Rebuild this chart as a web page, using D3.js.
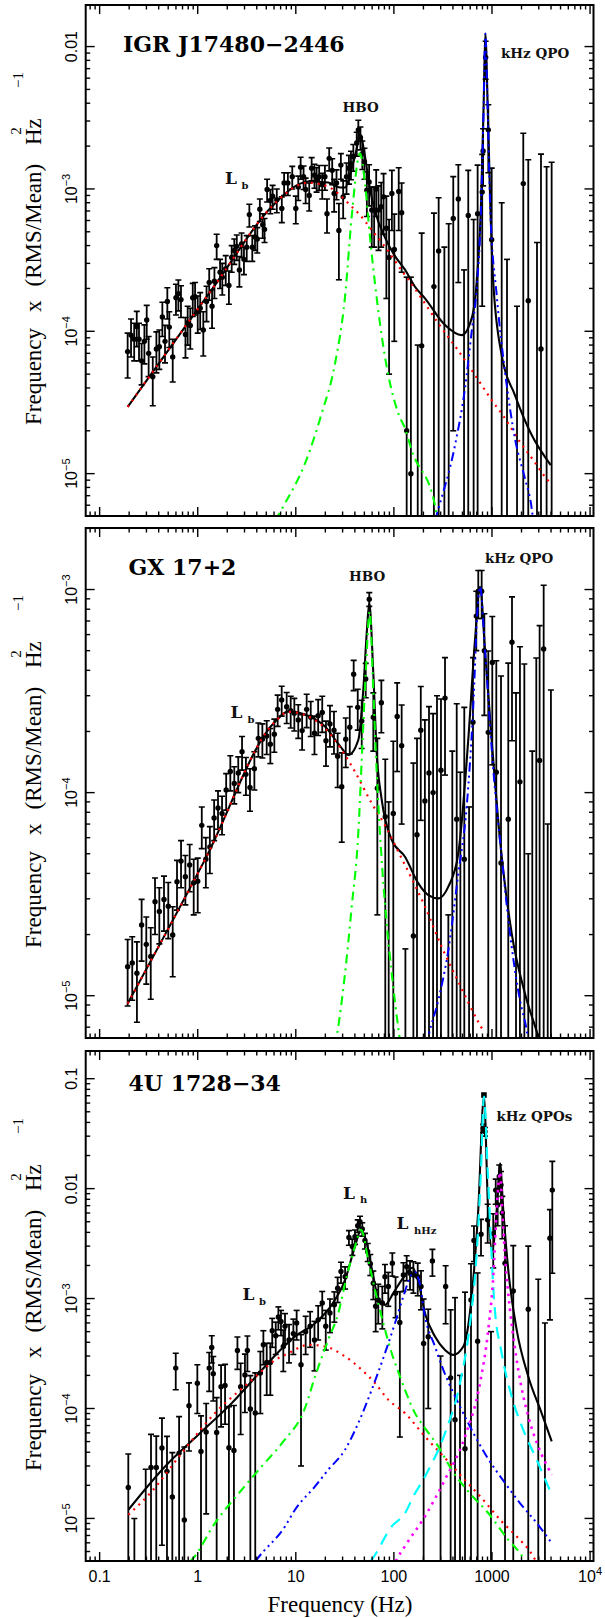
<!DOCTYPE html>
<html>
<head>
<meta charset="utf-8">
<script src="https://cdn.jsdelivr.net/npm/d3@7/dist/d3.min.js"></script>
<style>
body { margin: 0; background: #fff; }
svg { display: block; }
.tick-lbl { font-family: "Liberation Sans", Arial, sans-serif; font-size: 16px; fill: #000; }
.ax-title { font-family: "Liberation Serif", "Times New Roman", serif; font-size: 23px; fill: #000; }
.name { font-family: "DejaVu Serif", serif; font-weight: bold; font-size: 22px; fill: #000; }
.ann { font-family: "DejaVu Serif", serif; font-weight: bold; font-size: 13.5px; fill: #111; }
</style>
</head>
<body>
<div id="chart"></div>
<script>
// ---- shared x axis ----
var xTicks = [0.1, 1, 10, 100, 1000, 10000];
var xTickLabels = ["0.1", "1", "10", "100", "1000", "10^4"];

// ---- IGR J17480-2446 : data points [freq, power, sigma] ----
var igrPoints = [
  [0.193, 7.2e-5, 2.5e-5], [0.209, 9.4e-5, 2.8e-5], [0.225, 8.8e-5, 2.6e-5], [0.239, 1.08e-4, 3.0e-5],
  [0.252, 8.8e-5, 2.6e-5], [0.268, 6.2e-5, 2.0e-5], [0.286, 8.5e-5, 2.6e-5], [0.302, 1.2e-4, 3.2e-5],
  [0.316, 7.0e-5, 2.2e-5], [0.348, 4.8e-5, 1.8e-5], [0.379, 7.5e-5, 2.4e-5], [0.406, 7.8e-5, 2.4e-5],
  [0.436, 1.26e-4, 3.4e-5], [0.464, 8.5e-5, 2.5e-5], [0.49, 1.62e-4, 4.0e-5], [0.513, 1.07e-4, 3.0e-5],
  [0.556, 6.6e-5, 2.2e-5], [0.6, 1.72e-4, 4.2e-5], [0.635, 1.84e-4, 4.5e-5], [0.675, 1.67e-4, 4.2e-5],
  [0.75, 9.5e-5, 3.0e-5], [0.79, 1.15e-4, 3.5e-5], [0.84, 1.1e-4, 3.5e-5], [0.89, 1.72e-4, 4.5e-5],
  [0.94, 1.75e-4, 4.5e-5], [1.0, 1.37e-4, 4.0e-5], [1.06, 1.45e-4, 4.2e-5], [1.14, 1.02e-4, 3.5e-5],
  [1.23, 1.62e-4, 4.5e-5], [1.31, 2.2e-4, 5.5e-5], [1.40, 1.5e-4, 4.5e-5], [1.48, 2.25e-4, 5.5e-5],
  [1.56, 4.0e-4, 8.0e-5], [1.69, 2.6e-4, 6.0e-5], [1.78, 2.4e-4, 6.0e-5], [1.93, 2.75e-4, 6.5e-5],
  [2.08, 2.1e-4, 5.5e-5], [2.22, 3.3e-4, 7.0e-5], [2.36, 3.7e-4, 7.5e-5], [2.5, 3.95e-4, 8.0e-5],
  [2.66, 2.7e-4, 6.5e-5], [2.8, 4.1e-4, 8.0e-5], [2.96, 3.2e-4, 7.0e-5], [3.16, 3.9e-4, 8.0e-5],
  [3.36, 6.6e-4, 1.2e-4], [3.6, 3.9e-4, 8.0e-5], [3.84, 4.6e-4, 9.0e-5], [4.05, 4.45e-4, 9.0e-5],
  [4.3, 7.2e-4, 1.3e-4], [4.6, 5.6e-4, 1.1e-4], [4.8, 5.2e-4, 1.0e-4], [5.1, 9.9e-4, 1.8e-4],
  [5.5, 8.3e-4, 1.6e-4], [5.8, 8.9e-4, 1.7e-4],
  [6.4, 8.4e-4, 1.6e-4], [7.2, 7.3e-4, 1.5e-4], [7.6, 1.1e-3, 2.0e-4], [8.3, 1.1e-3, 2.0e-4],
  [9.2, 1.22e-3, 2.2e-4], [10.0, 7.3e-4, 1.6e-4], [10.6, 1.03e-3, 2.0e-4], [11.2, 1.42e-3, 2.5e-4],
  [12.0, 1.22e-3, 2.3e-4], [12.6, 9.9e-4, 2.0e-4], [13.7, 9.0e-4, 2.0e-4], [14.5, 1.4e-3, 2.6e-4],
  [15.5, 1.25e-3, 2.4e-4], [16.3, 1.18e-3, 2.3e-4], [17.3, 1.22e-3, 2.4e-4], [18.6, 1.07e-3, 2.2e-4],
  [19.8, 1.22e-3, 2.4e-4], [20.8, 6.7e-4, 1.8e-4], [21.9, 1.64e-3, 3.0e-4], [23.5, 1.35e-3, 2.8e-4],
  [24.6, 9.3e-4, 2.4e-4], [26.0, 1.1e-3, 2.6e-4], [27.5, 5.1e-4, 2.8e-4], [28.8, 1.47e-3, 3.0e-4],
  [30.4, 8.8e-4, 2.6e-4], [32.9, 1.22e-3, 3.0e-4], [34.8, 1.4e-3, 3.2e-4], [36.5, 1.5e-3, 3.4e-4],
  [38.6, 1.69e-3, 3.6e-4], [41.8, 2.1e-3, 4.0e-4], [43.4, 2.6e-3, 4.4e-4], [45.6, 2.3e-3, 4.2e-4],
  [47.7, 1.77e-3, 4.0e-4], [50.1, 1.55e-3, 3.8e-4], [53, 9.8e-4, 3.4e-4], [55.9, 1.12e-3, 3.6e-4],
  [59.5, 7.1e-4, 3.2e-4], [62.9, 7.1e-4, 3.2e-4], [66, 1.0e-3, 3.6e-4], [69.7, 7.1e-4, 3.4e-4],
  [74.2, 7.5e-4, 3.6e-4], [78.5, 8.8e-4, 4.0e-4], [83.8, 5.3e-4, 3.6e-4], [89.3, 3.3e-4, 2.8e-4],
  [95.4, 9.3e-4, 4.2e-4], [101, 3.75e-4, 2.9e-4], [112, 9.6e-4, 4.5e-4], [120, 6.8e-4, 4.2e-4],
  [135, 2.0e-5, 2.2e-4], [149, 1.0e-5, 2.3e-4], [175, -1e-4, 1.8e-4], [192, 7.9e-5, 4.1e-4],
  [256, 2.06e-4, 4.7e-4], [286, 3.66e-4, 5.0e-4], [327, -1e-4, 4.9e-4], [362, -5e-5, 6.2e-4],
  [403, 6.2e-4, 6.0e-4], [454, 8.5e-4, 6.3e-4], [519, -2e-4, 4.7e-4], [573, 6.5e-4, 7.0e-4],
  [650, -1e-4, 7.1e-4], [714, 6.7e-4, 8.0e-4], [795, 9.5e-4, 8.0e-4], [812, 1.85e-3, 8.0e-4],
  [862, 8.4e-3, 2.5e-3], [917, 2.6e-3, 1.3e-3], [993, 4.4e-4, 9.6e-4], [1256, -2e-4, 1.0e-3],
  [1423, -5e-4, 8.2e-4], [1800, -6e-4, 7.5e-4], [2085, 1.09e-3, 1.37e-3], [2344, 1.64e-4, 1.44e-3],
  [2877, -8e-4, 1.22e-3], [3160, 7.5e-5, 1.68e-3], [3605, -2e-4, 1.63e-3], [4058, -2e-4, 1.74e-3]
];
// model curves, [log10 freq, log10 power]
var igrTotal = [[-0.714,-4.531],[0.176,-3.675],[0.754,-3.125],[1.009,-2.975],[1.128,-2.948],[1.331,-2.955],
  [1.45,-2.99],[1.502,-2.99],[1.57,-2.857],[1.62,-2.72],[1.654,-2.613],[1.705,-2.77],[1.756,-3.0],[1.807,-3.155],
  [1.909,-3.34],[2.0,-3.46],[2.113,-3.567],[2.215,-3.687],[2.317,-3.769],[2.521,-3.956],[2.691,-4.027],
  [2.793,-3.909],[2.844,-3.652],[2.888,-3.113],[2.915,-2.41],[2.932,-1.906],[2.956,-2.41],[2.983,-3.113],
  [3.013,-3.652],[3.099,-4.167],[3.234,-4.448],[3.405,-4.729],[3.599,-4.94]];
var igrLb = [[-0.714,-4.531],[0.176,-3.675],[0.754,-3.125],[0.9,-3.03],[1.009,-2.978],[1.128,-2.956],
  [1.331,-2.985],[1.57,-3.125],[1.654,-3.183],[1.774,-3.289],[1.909,-3.406],[2.096,-3.589],[2.164,-3.652],
  [2.283,-3.769],[2.453,-3.945],[2.64,-4.12],[2.827,-4.308],[2.997,-4.483],[3.133,-4.612],[3.285,-4.777],
  [3.421,-4.905],[3.54,-5.022],[3.609,-5.08]];
var igrHbo = [[0.79,-5.33],[0.89,-5.209],[1.094,-4.928],[1.264,-4.577],[1.4,-4.226],[1.502,-3.757],[1.57,-3.195],
  [1.654,-2.75],[1.705,-2.96],[1.756,-3.336],[1.807,-3.663],[1.909,-4.179],[2.045,-4.577],[2.113,-4.682],
  [2.181,-4.835],[2.419,-5.222],[2.44,-5.33]];
var igrKhz = [[2.42,-5.33],[2.436,-5.29],[2.623,-4.80],[2.725,-4.40],[2.793,-4.003],[2.844,-3.70],[2.888,-3.15],
  [2.915,-2.43],[2.932,-1.91],[2.956,-2.43],[2.983,-3.15],[3.048,-3.746],[3.133,-4.285],[3.234,-4.753],
  [3.336,-5.034],[3.405,-5.245],[3.42,-5.33]];

// ---- GX 17+2 ----
var gxPoints = [
  [0.193, 1.39e-5, 0.5e-5], [0.215, 1.45e-5, 0.5e-5], [0.24, 1.29e-5, 0.55e-5], [0.268, 2.23e-5, 0.75e-5],
  [0.299, 1.79e-5, 0.65e-5], [0.332, 1.56e-5, 0.6e-5], [0.367, 2.9e-5, 0.9e-5], [0.406, 2.6e-5, 0.8e-5],
  [0.453, 2.98e-5, 0.9e-5], [0.501, 2.76e-5, 0.85e-5], [0.556, 1.99e-5, 0.75e-5], [0.615, 3.64e-5, 1.0e-5],
  [0.676, 4.6e-5, 1.2e-5], [0.748, 3.85e-5, 1.05e-5], [0.828, 4.4e-5, 1.15e-5], [0.91, 3.6e-5, 1.1e-5],
  [1.0, 3.66e-5, 1.1e-5], [1.1, 6.9e-5, 1.6e-5], [1.21, 4.7e-5, 1.3e-5], [1.33, 5.4e-5, 1.4e-5],
  [1.47, 7.5e-5, 1.7e-5], [1.61, 8.4e-5, 1.8e-5], [1.77, 7.9e-5, 1.7e-5], [1.95, 1.03e-4, 2.1e-5],
  [2.15, 1.27e-4, 2.5e-5], [2.36, 1.11e-4, 2.3e-5], [2.59, 1.25e-4, 2.5e-5], [2.83, 1.59e-4, 3.0e-5],
  [3.1, 1.23e-4, 2.6e-5], [3.41, 1.06e-4, 2.5e-5], [3.78, 1.31e-4, 2.8e-5], [4.15, 1.85e-4, 3.5e-5],
  [4.56, 1.83e-4, 3.5e-5], [5.05, 1.9e-4, 3.6e-5], [5.5, 1.73e-4, 3.4e-5], [6.04, 1.94e-4, 3.6e-5],
  [6.53, 2.57e-4, 4.5e-5], [7.18, 2.86e-4, 4.8e-5],
  [8.07, 2.65e-4, 4.6e-5], [8.87, 2.53e-4, 4.5e-5], [9.66, 2.46e-4, 4.5e-5], [10.6, 2.28e-4, 4.3e-5],
  [11.6, 2.02e-4, 4.0e-5], [12.9, 2.57e-4, 4.8e-5], [14.2, 2.35e-4, 4.6e-5], [15.5, 1.96e-4, 4.2e-5],
  [16.9, 2.39e-4, 4.8e-5], [18.6, 2.48e-4, 5.0e-5], [20.3, 1.8e-4, 4.5e-5], [22.3, 2.18e-4, 5.0e-5],
  [24.5, 2.03e-4, 4.8e-5], [26.7, 1.51e-4, 4.5e-5], [29.4, 1.07e-4, 5.0e-5], [32.3, 1.83e-4, 5.0e-5],
  [35.5, 2.1e-4, 5.5e-5], [38.9, 3.83e-4, 6.5e-5], [42.8, 2.63e-4, 6.0e-5], [47.0, 2.25e-4, 6.0e-5],
  [51.6, 3.63e-4, 7.0e-5], [56.1, 8.96e-4, 7.0e-5], [61.7, 2.35e-4, 7.5e-5], [67.8, 1.05e-4, 8.0e-5],
  [74.5, 2.77e-4, 8.0e-5], [81.7, 7.6e-5, 7.0e-5], [88.5, -2e-5, 1.1e-4], [98.6, 7.9e-5, 1.0e-4],
  [108, 2.37e-4, 1.1e-4], [120, 1.7e-4, 1.0e-4], [131, -8e-5, 9.7e-5], [158, 1.97e-5, 1.2e-4],
  [172, 6.2e-5, 1.23e-4], [188, 2.03e-4, 1.3e-4], [207, 9.1e-5, 1.37e-4], [228, 1.25e-4, 1.4e-4],
  [251, 1.0e-4, 1.45e-4], [275, -5e-5, 3.5e-4], [302, 1.29e-4, 1.6e-4], [332, 2.92e-4, 1.7e-4],
  [359, -1.5e-4, 1.75e-4], [394, -2e-5, 1.8e-4], [437, 7.4e-5, 2.0e-4], [476, -8e-5, 2.06e-4],
  [522, 4.7e-5, 2.16e-4], [584, -1.5e-4, 2.35e-4], [640, 2.22e-4, 2.4e-4], [692, 7.4e-4, 2.4e-4],
  [725, 9.8e-4, 2.6e-4], [785, 9.8e-4, 2.6e-4], [836, 5.0e-4, 2.6e-4], [917, 1.98e-4, 3.0e-4],
  [1007, 4.37e-4, 3.0e-4], [1107, 1.26e-4, 3.2e-4], [1236, 4.5e-5, 3.3e-4], [1466, 7.4e-5, 3.6e-4],
  [1600, 5.5e-4, 3.7e-4], [1758, -1e-4, 4.1e-4], [1928, 1.13e-4, 4.1e-4], [2138, -5e-5, 4.8e-4],
  [2344, -4e-4, 4.5e-4], [2576, -3e-4, 4.6e-4], [2830, -2e-5, 4.8e-4], [3060, 1.44e-4, 5.2e-4],
  [3365, 5.1e-4, 5.4e-4], [3700, -4e-4, 4.7e-4], [3990, -2e-4, 5.2e-4]
];
var gxTotal = [[-0.714,-5.038],[0.074,-4.33],[0.788,-3.651],[0.924,-3.60],[1.094,-3.615],[1.298,-3.675],
  [1.45,-3.77],[1.536,-3.815],[1.637,-3.741],[1.688,-3.495],[1.723,-3.215],[1.749,-3.067],[1.79,-3.412],
  [1.825,-3.806],[1.876,-4.036],[1.978,-4.233],[2.113,-4.316],[2.249,-4.447],[2.351,-4.505],[2.453,-4.521],
  [2.555,-4.463],[2.657,-4.299],[2.758,-3.741],[2.827,-3.248],[2.878,-2.986],[2.929,-3.298],[2.997,-3.741],
  [3.082,-4.233],[3.201,-4.693],[3.336,-4.989],[3.472,-5.202],[3.5,-5.25]];
var gxLb = [[-0.714,-5.038],[0.074,-4.33],[0.788,-3.651],[0.924,-3.602],[1.094,-3.618],[1.298,-3.683],
  [1.468,-3.79],[1.603,-3.897],[1.774,-4.053],[1.909,-4.16],[2.045,-4.291],[2.198,-4.439],[2.317,-4.562],
  [2.487,-4.759],[2.674,-4.948],[2.86,-5.129],[2.918,-5.178]];
var gxHbo = [[1.40,-5.25],[1.417,-5.202],[1.502,-4.89],[1.57,-4.562],[1.637,-4.2],[1.678,-3.774],[1.713,-3.412],
  [1.753,-3.109],[1.79,-3.495],[1.825,-3.905],[1.869,-4.283],[1.92,-4.611],[1.978,-4.89],[2.052,-5.186],[2.07,-5.25]];
var gxKhz = [[2.33,-5.25],[2.351,-5.202],[2.453,-5.022],[2.555,-4.776],[2.657,-4.398],[2.742,-4.07],[2.809,-3.577],
  [2.854,-3.084],[2.878,-2.986],[2.929,-3.298],[3.003,-3.823],[3.099,-4.316],[3.201,-4.759],[3.285,-5.022],
  [3.354,-5.17],[3.38,-5.25]];

// ---- 4U 1728-34 ----
var fuPoints = [
  [0.196, 1.91e-5, 1.94e-5], [0.226, -5e-6, 1.5e-5], [0.295, -1e-5, 3.8e-5], [0.334, 2.91e-5, 2.9e-5],
  [0.378, 2.91e-5, 2.7e-5], [0.432, 4.37e-5, 3.8e-5], [0.486, 2.68e-5, 2.9e-5], [0.551, 1.57e-5, 2.4e-5],
  [0.597, 2.33e-4, 8.5e-5], [0.646, 3.93e-5, 4.5e-5], [0.73, 9.7e-6, 3.5e-5], [0.815, 1.06e-4, 6.5e-5],
  [0.991, 1.7e-4, 8.0e-5], [1.08, 4.07e-5, 4.5e-5], [1.22, 6.1e-5, 5.0e-5], [1.31, 2.33e-4, 9.0e-5],
  [1.39, 3.59e-4, 1.0e-4], [1.44, 2.07e-4, 9.0e-5], [1.56, 6.05e-5, 6.5e-5], [1.73, 1.58e-4, 9.0e-5],
  [1.9, 1.62e-4, 9.0e-5], [2.08, 4.4e-5, 6.0e-5], [2.34, 4.15e-5, 6.5e-5], [2.54, 3.37e-4, 1.1e-4],
  [2.74, 1.58e-4, 1.0e-4], [3.03, 2.02e-4, 1.1e-4], [3.21, 3.37e-4, 1.2e-4], [3.44, 9.9e-5, 1.0e-4],
  [3.86, 9.1e-5, 1.2e-4], [4.35, 2.1e-4, 1.2e-4], [4.67, 3.8e-4, 1.3e-4], [5.05, 2.62e-4, 1.3e-4],
  [5.5, 2.62e-4, 1.3e-4], [5.75, 5.1e-4, 1.5e-4], [6.24, 4.6e-4, 1.5e-4], [6.64, 6.8e-4, 1.6e-4],
  [7.06, 6.2e-4, 1.6e-4], [7.46, 3.67e-4, 1.5e-4],
  [7.76, 5.6e-4, 1.7e-4], [8.53, 4.2e-4, 1.6e-4], [9.44, 4.8e-4, 1.7e-4], [10.2, 6.0e-4, 1.8e-4],
  [11.3, 2.5e-4, 2.2e-4], [12.6, 5.0e-4, 1.9e-4], [14.0, 5.6e-4, 2.0e-4], [15.5, 4.2e-4, 2.0e-4],
  [16.9, 6.4e-4, 2.2e-4], [18.6, 9.1e-4, 2.5e-4], [20.2, 5.6e-4, 2.2e-4], [22.3, 7.4e-4, 2.5e-4],
  [24.7, 8.8e-4, 2.7e-4], [26.7, 1.24e-3, 3.2e-4], [28.9, 1.76e-3, 3.8e-4], [31.8, 1.58e-3, 3.6e-4],
  [34.8, 3.6e-3, 5.5e-4], [37.7, 2.97e-3, 5.0e-4], [40.1, 3.66e-3, 5.5e-4], [42.8, 4.6e-3, 6.0e-4],
  [45.1, 5.0e-3, 6.0e-4], [47.6, 4.3e-3, 6.0e-4], [50.7, 3.37e-3, 5.5e-4], [54.1, 2.67e-3, 5.0e-4],
  [57.5, 2.07e-3, 4.5e-4], [61.7, 1.38e-3, 4.0e-4], [65.2, 8.5e-4, 3.5e-4], [69.3, 9.7e-4, 3.8e-4],
  [76.2, 9.1e-4, 3.8e-4], [81.1, 1.58e-3, 4.6e-4], [87.7, 1.29e-3, 4.4e-4], [96.4, 2.1e-3, 5.0e-4],
  [104, 1.12e-3, 4.5e-4], [115, 6.05e-4, 5.5e-4], [125, 1.64e-3, 4.8e-4], [135, 1.95e-3, 5.0e-4],
  [146, 1.7e-3, 5.0e-4],
  [158, 1.64e-3, 5.2e-4], [175, 1.58e-3, 5.2e-4], [189, 1.29e-3, 5.0e-4], [201, 3.9e-4, 6.0e-4],
  [224, 4.5e-4, 3.5e-4], [247, 2.2e-3, 6.0e-4], [299, -1e-4, 4.0e-4], [337, 1.29e-3, 7.0e-4],
  [379, 1.9e-4, 6.0e-4], [420, 7.9e-5, 9.4e-4], [472, -3e-4, 5.0e-4], [531, 4.3e-5, 1.1e-3],
  [611, 9.7e-4, 1.1e-3], [655, 3.37e-3, 1.2e-3], [714, 4.1e-4, 1.3e-3], [773, 3.85e-3, 1.4e-3],
  [815, 0.0354, 3.0e-3], [849, 0.033, 3.0e-3], [904, 5.2e-3, 2.0e-3], [977, -1.5e-3, 2.0e-3],
  [1030, 3.9e-3, 2.0e-3], [1092, 9.7e-3, 2.5e-3], [1143, 7.1e-3, 2.5e-3], [1186, 0.0129, 3.5e-3],
  [1236, 0.0108, 3.5e-3], [1274, 6.0e-3, 2.5e-3], [1358, 2.1e-3, 2.5e-3], [1648, 1.17e-3, 1.86e-3],
  [2344, 8.0e-4, 2.2e-3], [2965, -1e-3, 2.5e-3], [3467, -2e-3, 2.6e-3], [3899, 3.54e-3, 2.9e-3],
  [4121, 9.7e-3, 8.0e-3]
];
var fuPeakSquare = [[828, 0.071]];
var fuTotal = [[-0.707,-4.921],[-0.333,-4.527],[0.006,-4.239],[0.347,-3.951],[0.686,-3.618],[0.83,-3.48],
  [0.992,-3.345],[1.196,-3.224],[1.366,-3.057],[1.502,-2.83],[1.603,-2.527],[1.665,-2.375],[1.723,-2.497],
  [1.79,-2.8],[1.858,-3.042],[1.909,-3.057],[1.994,-2.951],[2.08,-2.83],[2.19,-2.72],[2.25,-2.85],
  [2.317,-3.133],[2.419,-3.345],[2.521,-3.467],[2.606,-3.512],[2.708,-3.436],[2.793,-2.982],[2.86,-2.194],
  [2.918,-1.164],[2.962,-2.224],[3.003,-2.557],[3.048,-2.194],[3.082,-1.769],[3.115,-2.194],[3.166,-2.739],
  [3.252,-3.285],[3.37,-3.709],[3.506,-4.042],[3.609,-4.3]];
var fuLb = [[-0.707,-4.967],[-0.469,-4.755],[-0.163,-4.406],[0.176,-4.042],[0.516,-3.769],[0.822,-3.542],
  [0.924,-3.497],[1.128,-3.421],[1.298,-3.436],[1.502,-3.527],[1.672,-3.648],[1.807,-3.769],[1.943,-3.921],
  [2.113,-4.042],[2.317,-4.255],[2.538,-4.467],[2.691,-4.618],[2.895,-4.815],[3.099,-5.027],[3.252,-5.164],
  [3.387,-5.3],[3.45,-5.39]];
var fuLh = [[-0.08,-5.39],[-0.061,-5.375],[0.176,-5.042],[0.449,-4.739],[0.652,-4.527],[0.873,-4.30],
  [1.092,-4.0],[1.196,-3.709],[1.331,-3.375],[1.433,-3.133],[1.519,-2.8],[1.603,-2.527],[1.665,-2.375],
  [1.739,-2.648],[1.807,-2.921],[1.892,-3.224],[1.978,-3.497],[2.062,-3.709],[2.113,-3.83],[2.215,-4.042],
  [2.317,-4.178],[2.453,-4.345],[2.589,-4.557],[2.758,-4.755],[2.962,-4.951],[3.166,-5.194],[3.285,-5.315],[3.34,-5.39]];
var fuLhhz = [[0.59,-5.39],[0.602,-5.375],[0.89,-5.073],[0.992,-4.921],[1.196,-4.709],[1.331,-4.557],
  [1.502,-4.375],[1.637,-4.133],[1.774,-3.83],[1.909,-3.497],[2.011,-3.224],[2.096,-2.982],[2.181,-2.78],
  [2.22,-2.76],[2.26,-2.85],[2.317,-3.164],[2.419,-3.436],[2.504,-3.648],[2.657,-3.951],[2.793,-4.194],
  [2.946,-4.436],[3.133,-4.678],[3.285,-4.86],[3.456,-5.042],[3.609,-5.224]];
var fuKhz1 = [[1.76,-5.39],[1.774,-5.375],[1.978,-5.073],[2.113,-4.953],[2.198,-4.8],[2.317,-4.618],
  [2.521,-4.224],[2.674,-3.769],[2.776,-3.224],[2.844,-2.588],[2.888,-1.83],[2.918,-1.164],[2.956,-1.83],
  [2.99,-2.497],[3.024,-3.042],[3.099,-3.497],[3.201,-3.891],[3.319,-4.194],[3.456,-4.467],[3.609,-4.785]];
var fuKhz2 = [[2.02,-5.39],[2.028,-5.375],[2.113,-5.252],[2.317,-4.98],[2.521,-4.646],[2.725,-4.255],
  [2.878,-3.769],[2.962,-3.285],[3.013,-2.8],[3.048,-2.194],[3.082,-1.85],[3.105,-2.194],[3.133,-2.618],
  [3.184,-3.103],[3.268,-3.648],[3.37,-4.073],[3.472,-4.345],[3.609,-4.603]];

// y tick values/labels per panel
var igrYTicks = [0.01, 1e-3, 1e-4, 1e-5];
var igrYLabels = ["0.01", "10^−3", "10^−4", "10^−5"];
var gxYTicks = [1e-3, 1e-4, 1e-5];
var gxYLabels = ["10^−3", "10^−4", "10^−5"];
var fuYTicks = [0.1, 0.01, 1e-3, 1e-4, 1e-5];
var fuYLabels = ["0.1", "0.01", "10^−3", "10^−4", "10^−5"];

var W = 605, H = 1618;

var svg = d3.select("#chart")
    .append("svg")
    .attr("width", W)
    .attr("height", H);

var x = d3.scaleLog()
    .domain([0.0721, 10840])
    .range([85.7, 593.5]);

var lineStyles = {
  total:   { color: "#000000", dash: null, width: 2.1 },
  red:     { color: "#ff0000", dash: "2,5", width: 2.2 },
  green:   { color: "#00ff00", dash: "9,5,2,5", width: 2.1 },
  blue:    { color: "#0000ff", dash: "9,4,2,4,2,4,2,4", width: 2 },
  cyan:    { color: "#00ffff", dash: "12,8", width: 2.2 },
  magenta: { color: "#ff00ff", dash: "2.5,5", width: 2.6 }
};

function decadeTicks(dom) {
  var lo = Math.log10(dom[0]), hi = Math.log10(dom[1]), out = [];
  for (var d = Math.floor(lo); d <= Math.ceil(hi); d++) {
    for (var k = 1; k < 10; k++) {
      var v = k * Math.pow(10, d), lv = Math.log10(v);
      if (lv >= lo - 1e-9 && lv <= hi + 1e-9) out.push({ v: v, major: k === 1 });
    }
  }
  return out;
}

// writes "10^-3" as base + superscript
function powLabel(sel, s, supSize) {
  var parts = s.split("^");
  sel.append("tspan").text(parts[0]);
  if (parts.length > 1) {
    sel.append("tspan").attr("dy", -7).style("font-size", supSize + "px").text(parts[1]);
  }
}

function drawPanel(p, idx) {
  var y = d3.scaleLog().domain(p.ydom).range([p.bottom, p.top]);
  var g = svg.append("g");
  var clipId = "clip" + idx;
  svg.append("clipPath").attr("id", clipId)
    .append("rect")
    .attr("x", x.range()[0]).attr("y", p.top)
    .attr("width", x.range()[1] - x.range()[0]).attr("height", p.bottom - p.top);

  var plot = g.append("g").attr("clip-path", "url(#" + clipId + ")");

  // error bars + points
  p.points.forEach(function(d) {
    var px = x(d[0]);
    var hi = d[1] + d[2], lo = d[1] - d[2];
    var yHi = y(hi);
    var yLo = lo > p.ydom[0] ? y(lo) : p.bottom + 5;
    plot.append("line")
      .attr("x1", px).attr("x2", px)
      .attr("y1", yHi).attr("y2", yLo)
      .attr("stroke", "#000").attr("stroke-width", 1.8);
    plot.append("line")
      .attr("x1", px - 3).attr("x2", px + 3)
      .attr("y1", yHi).attr("y2", yHi)
      .attr("stroke", "#000").attr("stroke-width", 1.6);
    if (lo > p.ydom[0]) {
      plot.append("line")
        .attr("x1", px - 3).attr("x2", px + 3)
        .attr("y1", yLo).attr("y2", yLo)
        .attr("stroke", "#000").attr("stroke-width", 1.6);
    }
    if (d[1] > 0) {
      plot.append("circle")
        .attr("cx", px).attr("cy", y(d[1]))
        .attr("r", 2.7)
        .style("fill", "#000");
    }
  });

  if (p.squares) {
    p.squares.forEach(function(d) {
      plot.append("rect")
        .attr("x", x(d[0]) - 2.8).attr("y", y(d[1]) - 2.8)
        .attr("width", 5.6).attr("height", 5.6)
        .style("fill", "#000");
    });
  }

  var line = d3.line()
    .x(function(d) { return x(Math.pow(10, d[0])); })
    .y(function(d) { return y(Math.pow(10, d[1])); })
    .curve(d3.curveMonotoneX);

  p.curves.forEach(function(c) {
    var st = lineStyles[c.style];
    plot.append("path")
      .datum(c.data)
      .attr("fill", "none")
      .attr("stroke", st.color)
      .attr("stroke-width", st.width)
      .attr("stroke-dasharray", st.dash)
      .attr("d", line);
  });

  // frame
  g.append("rect")
    .attr("x", x.range()[0]).attr("y", p.top)
    .attr("width", x.range()[1] - x.range()[0]).attr("height", p.bottom - p.top)
    .attr("fill", "none").attr("stroke", "#000").attr("stroke-width", 2);

  // x ticks top & bottom
  decadeTicks(x.domain()).forEach(function(t) {
    var len = t.major ? 9 : 4.5, px = x(t.v);
    g.append("line").attr("x1", px).attr("x2", px).attr("y1", p.bottom).attr("y2", p.bottom - len)
      .attr("stroke", "#000").attr("stroke-width", 1.4);
    g.append("line").attr("x1", px).attr("x2", px).attr("y1", p.top).attr("y2", p.top + len)
      .attr("stroke", "#000").attr("stroke-width", 1.4);
  });
  // y ticks left & right
  var x0 = x.range()[0], x1 = x.range()[1];
  decadeTicks(p.ydom).forEach(function(t) {
    var len = t.major ? 9 : 4.5, py = y(t.v);
    g.append("line").attr("x1", x0).attr("x2", x0 + len).attr("y1", py).attr("y2", py)
      .attr("stroke", "#000").attr("stroke-width", 1.4);
    g.append("line").attr("x1", x1).attr("x2", x1 - len).attr("y1", py).attr("y2", py)
      .attr("stroke", "#000").attr("stroke-width", 1.4);
  });

  // y tick labels (rotated)
  p.yTicks.forEach(function(v, i) {
    var t = g.append("text")
      .attr("class", "tick-lbl")
      .attr("text-anchor", "middle")
      .attr("transform", "translate(77," + y(v) + ") rotate(-90)");
    powLabel(t, p.yLabels[i], 11);
  });

  // y axis title
  var top = p.top;
  var yt = g.append("text")
    .attr("class", "ax-title")
    .attr("transform", "translate(40.5," + (top + 420) + ") rotate(-90)");
  yt.append("tspan").text("Frequency");
  yt.append("tspan").attr("dx", 16).text("x");
  yt.append("tspan").attr("dx", 14).text("(RMS/Mean)");
  g.append("text").attr("class", "ax-title")
    .attr("transform", "translate(40.5," + (top + 140) + ") rotate(-90)")
    .text("Hz");
  g.append("text").attr("class", "ax-title").style("font-size", "15px")
    .attr("text-anchor", "middle")
    .attr("transform", "translate(21," + (top + 126) + ") rotate(-90)")
    .text("2");
  g.append("text").attr("class", "ax-title").style("font-size", "15px")
    .attr("text-anchor", "middle")
    .attr("transform", "translate(23," + (top + 75) + ") rotate(-90)")
    .text("−1");

  // annotations
  g.append("text").attr("class", "name").attr("x", p.nameX).attr("y", top + p.nameDy).text(p.name);
  p.notes.forEach(function(n) {
    var t = g.append("text").attr("class", "ann")
      .attr("x", n[1]).attr("y", top + n[2]);
    if (n[3]) t.style("font-size", n[3] + "px");
    t.text(n[0]);
  });
  return y;
}

var panels = [
  { top: 5, bottom: 516, ydom: [5.04e-6, 0.01959], yTicks: igrYTicks, yLabels: igrYLabels,
    points: igrPoints,
    curves: [ { data: igrTotal, style: "total" }, { data: igrLb, style: "red" },
              { data: igrHbo, style: "green" }, { data: igrKhz, style: "blue" } ],
    name: "IGR J17480−2446", nameX: 123, nameDy: 47,
    notes: [ ["HBO", 342.5, 106.5], ["kHz QPO", 501, 53],
             ["L", 225, 178.5, 17], ["b", 241.5, 183.5, 10] ] },
  { top: 528, bottom: 1038, ydom: [6.19e-6, 2.009e-3], yTicks: gxYTicks, yLabels: gxYLabels,
    points: gxPoints,
    curves: [ { data: gxTotal, style: "total" }, { data: gxLb, style: "red" },
              { data: gxHbo, style: "green" }, { data: gxKhz, style: "blue" } ],
    name: "GX 17+2", nameX: 128.5, nameDy: 47,
    notes: [ ["HBO", 349, 53], ["kHz QPO", 485, 35],
             ["L", 230.5, 190, 17], ["b", 247.5, 195, 10] ] },
  { top: 1051, bottom: 1561, ydom: [4.10e-6, 0.1786], yTicks: fuYTicks, yLabels: fuYLabels,
    points: fuPoints, squares: fuPeakSquare,
    curves: [ { data: fuTotal, style: "total" }, { data: fuLb, style: "red" },
              { data: fuLh, style: "green" }, { data: fuLhhz, style: "blue" },
              { data: fuKhz1, style: "cyan" }, { data: fuKhz2, style: "magenta" } ],
    name: "4U 1728−34", nameX: 128.5, nameDy: 40,
    notes: [ ["kHz QPOs", 496.5, 70], ["L", 242.5, 249, 17], ["b", 259, 253.7, 10],
             ["L", 343, 147.5, 17], ["h", 360, 152.3, 10],
             ["L", 396.5, 177.7, 17], ["hHz", 414, 182.5, 10] ] }
];

panels.forEach(function(p, i) { drawPanel(p, i); });

// x tick labels on the bottom panel
xTicks.forEach(function(v, i) {
  var t = svg.append("text")
    .attr("class", "tick-lbl")
    .attr("text-anchor", "middle")
    .attr("x", x(v))
    .attr("y", 1582);
  powLabel(t, xTickLabels[i], 11);
});

svg.append("text")
  .attr("class", "ax-title")
  .attr("text-anchor", "middle")
  .attr("x", 340)
  .attr("y", 1612)
  .text("Frequency (Hz)");
</script>
</body>
</html>
